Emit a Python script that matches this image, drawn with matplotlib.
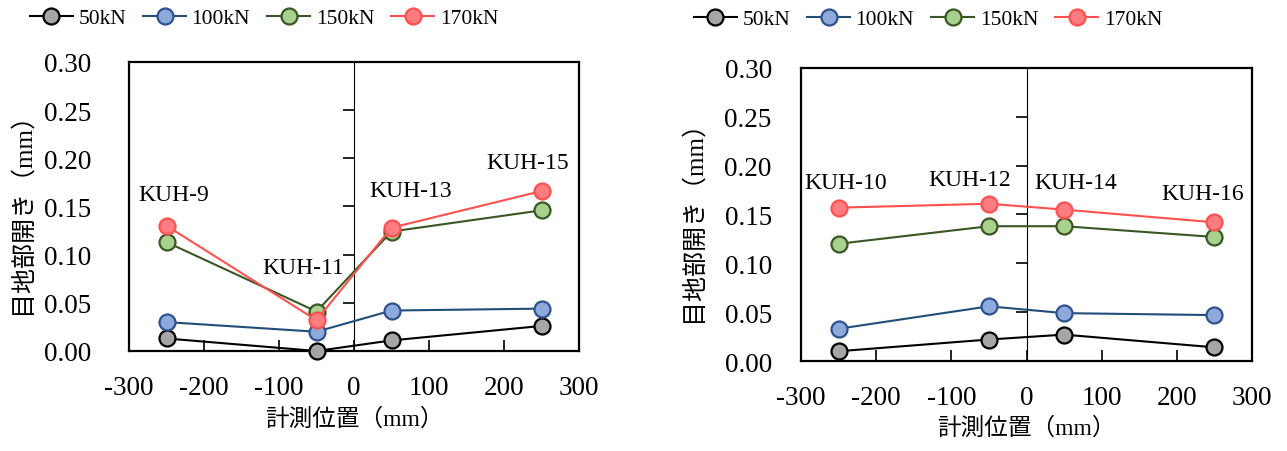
import numpy as np
import matplotlib
matplotlib.use("Agg")
import matplotlib.pyplot as plt

plt.rcParams['font.family'] = ['Liberation Serif', 'Noto Sans CJK JP']
plt.rcParams['axes.unicode_minus'] = False

# 計測位置 (mm)
positions = [-250, -50, 50, 250]
loads = ["50kN", "100kN", "150kN", "170kN"]

# 左図 KUH-9, 11, 13, 15
left_50 = [0.013, 0.000, 0.011, 0.026]
left_100 = [0.030, 0.020, 0.042, 0.044]
left_150 = [0.113, 0.041, 0.124, 0.146]
left_170 = [0.130, 0.032, 0.128, 0.166]
left_names = ["KUH-9", "KUH-11", "KUH-13", "KUH-15"]
left_name_pos = [(-241, 0.162), (-68, 0.087), (75, 0.167), (232, 0.196)]

# 右図 KUH-10, 12, 14, 16
right_50 = [0.010, 0.022, 0.027, 0.014]
right_100 = [0.033, 0.056, 0.049, 0.047]
right_150 = [0.120, 0.138, 0.138, 0.127]
right_170 = [0.157, 0.161, 0.155, 0.142]
right_names = ["KUH-10", "KUH-12", "KUH-14", "KUH-16"]
right_name_pos = [(-241, 0.183), (-76, 0.186), (65, 0.183), (235, 0.171)]

# 線の色, マーカー面, マーカー縁
styles = [
    ("#000000", "#a6a6a6", "#000000"),
    ("#1f4e79", "#8eaadb", "#2f528f"),
    ("#385723", "#a9d18e", "#385723"),
    ("#ff5050", "#ff7c80", "#ff5050"),
]

fig = plt.figure(figsize=(12.87, 4.52), dpi=100)
W, H = 1287, 452


def draw_panel(rect, series, names, name_pos, ylabpad, legend_center, lab_x, lab_y):
    ax = fig.add_axes(rect)
    handles = []
    for vals, (lc, fc, ec), lab in zip(series, styles, loads):
        h, = ax.plot(positions, vals, color=lc, lw=1.5, marker='o', ms=11.5,
                     mfc=fc, mec=ec, mew=1.6, clip_on=False, label=lab, zorder=3)
        handles.append(h)
    ax.set_xlim(-300, 300)
    ax.set_ylim(0, 0.30)
    ax.set_xticks(np.arange(-300, 301, 100))
    ax.set_yticks(np.arange(0, 0.301, 0.05))
    ax.set_yticklabels([f"{v:.2f}" for v in np.arange(0, 0.301, 0.05)])
    ax.tick_params(axis='y', length=0, pad=ylabpad, labelsize=19.5)
    ax.tick_params(axis='x', direction='in', length=8, width=1.2, pad=17, labelsize=19.5)
    for sp in ax.spines.values():
        sp.set_linewidth(1.6)
    # x=0 の縦軸
    sec = ax.secondary_yaxis(0.5)
    sec.set_yticks(np.arange(0, 0.301, 0.05))
    sec.tick_params(direction='in', length=8, width=1.2, labelleft=False, labelright=False)
    sec.spines['left'].set_linewidth(1.2)
    for n, (tx, ty) in zip(names, name_pos):
        ax.text(tx, ty, n, ha='center', va='center', fontsize=17)
    ax.set_xlabel("計測位置（mm）", fontsize=17)
    ax.set_ylabel("目地部開き（mm）", fontsize=18)
    ax.xaxis.set_label_coords(0.5, lab_x)
    ax.yaxis.set_label_coords(lab_y, 0.5)
    fig.legend(handles=handles, loc='center', bbox_to_anchor=legend_center, ncol=4,
               frameon=False, fontsize=15.5, handlelength=2.0, handletextpad=0.25,
               columnspacing=0.8, borderaxespad=0)
    return ax


draw_panel([129 / W, 1 - 352 / H, 450 / W, 289 / H],
           [left_50, left_100, left_150, left_170], left_names, left_name_pos,
           27, (264 / W, 1 - 19 / H), -0.194, -0.213)
draw_panel([801 / W, 1 - 362 / H, 451 / W, 293 / H],
           [right_50, right_100, right_150, right_170], right_names, right_name_pos,
           21, (928 / W, 1 - 20 / H), -0.188, -0.213)

fig.savefig("out.png", dpi=100)
